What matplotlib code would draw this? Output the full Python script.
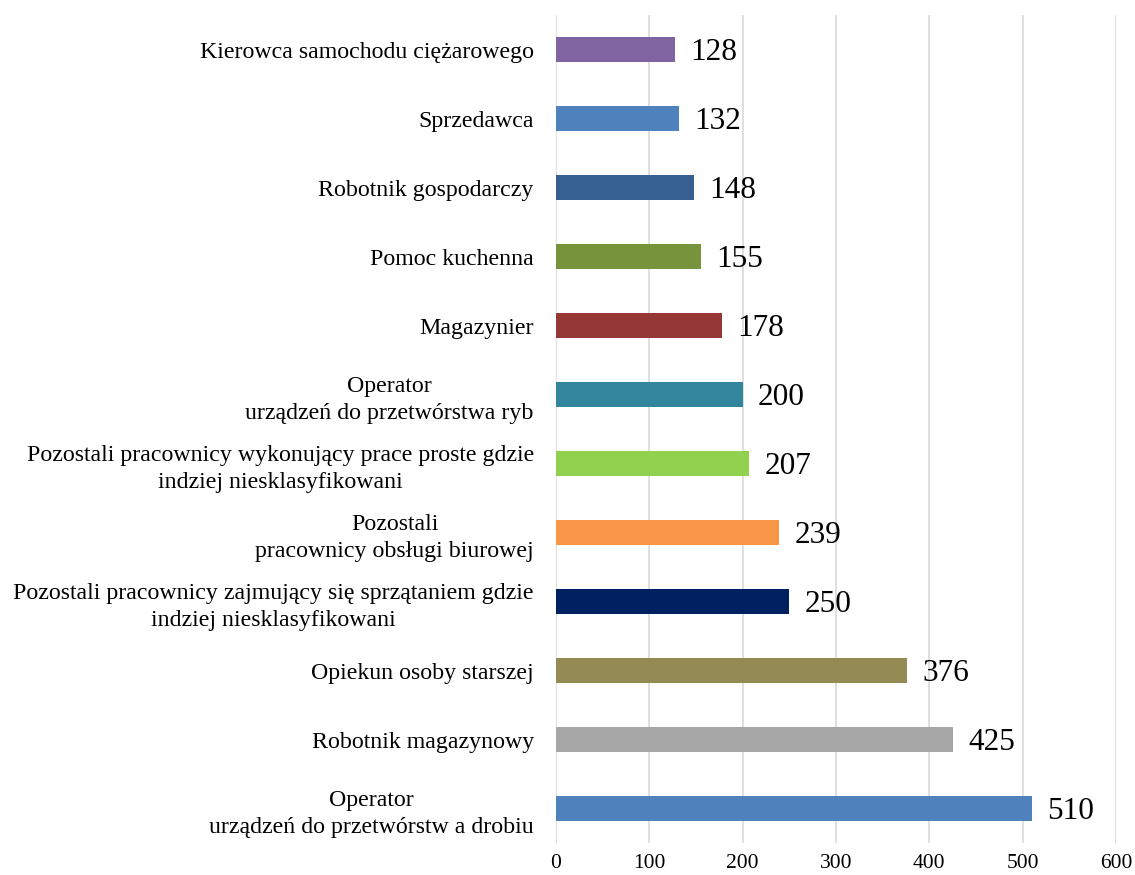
import matplotlib
matplotlib.use("Agg")
import matplotlib.pyplot as plt

categories = [
    "Kierowca samochodu ciężarowego",
    "Sprzedawca",
    "Robotnik gospodarczy",
    "Pomoc kuchenna",
    "Magazynier",
    "Operator\nurządzeń do przetwórstwa ryb",
    "Pozostali pracownicy wykonujący prace proste gdzie\nindziej niesklasyfikowani",
    "Pozostali\npracownicy obsługi biurowej",
    "Pozostali pracownicy zajmujący się sprzątaniem gdzie\nindziej niesklasyfikowani",
    "Opiekun osoby starszej",
    "Robotnik magazynowy",
    "Operator\nurządzeń do przetwórstw a drobiu",
]
values = [128, 132, 148, 155, 178, 200, 207, 239, 250, 376, 425, 510]
colors = ["#8064A2", "#4F81BD", "#376092", "#77933C", "#953735", "#31859C",
          "#92D050", "#F79646", "#002060", "#948A54", "#A6A6A6", "#4F81BD"]
xticks = [0, 100, 200, 300, 400, 500, 600]

plt.rcParams['font.family'] = ['Liberation Serif', 'DejaVu Serif']

fig = plt.figure(figsize=(11.35, 8.75), dpi=100)
ax = fig.add_axes([556/1135, 1 - 843/875, (1116-556)/1135, (843-15)/875])

y = list(range(len(categories)))
ax.barh(y, values, height=0.36, color=colors, zorder=3)
ax.set_ylim(len(categories) - 0.5, -0.5)
ax.set_xlim(0, 600)
ax.set_xticks(xticks)
ax.set_xticklabels([str(t) for t in xticks], fontsize=15.5)
ax.set_yticks(y)
ax.set_yticklabels(categories, fontsize=17.2, linespacing=1.35)
for lbl in ax.get_yticklabels():
    lbl.set_multialignment('center')

ax.grid(axis='x', color='#D9D9D9', linewidth=1.2, zorder=0)
for s in ax.spines.values():
    s.set_visible(False)
ax.tick_params(axis='y', length=0, pad=16)
ax.tick_params(axis='x', length=0, pad=8)

for yi, v in zip(y, values):
    ax.annotate(str(v), xy=(v, yi), xytext=(11, -2), textcoords='offset points',
                va='center', ha='left', fontsize=22.5)

fig.savefig("out.png", dpi=100)
